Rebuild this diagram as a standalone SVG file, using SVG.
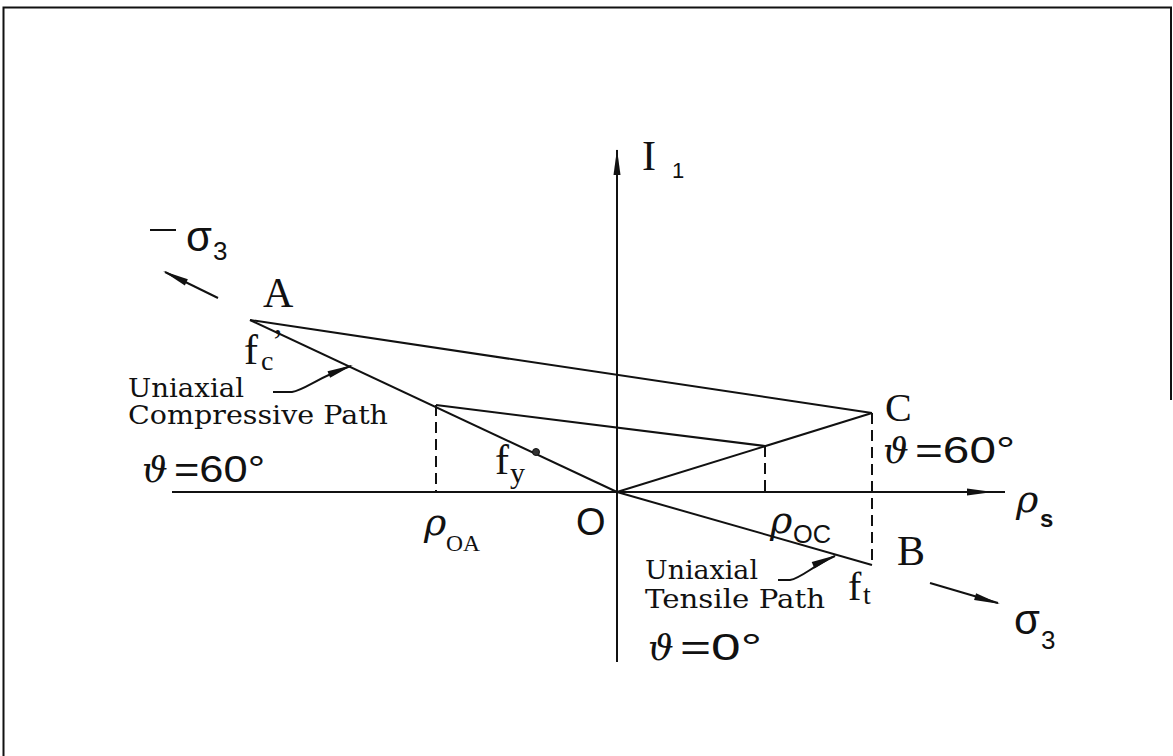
<svg xmlns="http://www.w3.org/2000/svg" width="1173" height="756" viewBox="0 0 1173 756">
<defs>
<style>
.ln{stroke:#111;stroke-width:2;fill:none}
.ds{stroke:#111;stroke-width:2;fill:none;stroke-dasharray:11,6}
.ser{font-family:"Liberation Serif",serif;fill:#111}
.sans{font-family:"Liberation Sans",sans-serif;fill:#111}
.lab{font-family:"DejaVu Serif",serif;fill:#111;font-size:26px}
.th{font-family:"DejaVu Serif",serif;font-style:italic;fill:#111;font-size:36px}
.rho{font-family:"DejaVu Serif",serif;font-style:italic;fill:#111;font-size:38px}
</style>
<path id="ah" d="M0,0 L-26,-3.5 L-26,3.5 Z" fill="#111"/>
</defs>
<rect width="1173" height="756" fill="#fff"/>
<path d="M1171,400 V7.5 H3.5 V756" class="ln" stroke-width="2"/>

<g id="connectors">
<line x1="172" y1="492" x2="1005" y2="492" class="ln"/>
<use href="#ah" transform="translate(993,492)"/>
<line x1="617" y1="150" x2="617" y2="662" class="ln"/>
<use href="#ah" transform="translate(617,149) rotate(-90)"/>
<line x1="250" y1="320" x2="872" y2="413" class="ln"/>
<line x1="250" y1="320" x2="617" y2="492" class="ln"/>
<line x1="617" y1="492" x2="872" y2="565" class="ln"/>
<line x1="617" y1="492" x2="872" y2="413" class="ln"/>
<line x1="436" y1="405" x2="765" y2="446" class="ln"/>
<line x1="436" y1="405" x2="436" y2="492" class="ds"/>
<line x1="765" y1="446" x2="765" y2="492" class="ds"/>
<line x1="872" y1="413" x2="872" y2="565" class="ds"/>
<line x1="218" y1="298" x2="165" y2="272" class="ln"/>
<use href="#ah" transform="translate(163,271) rotate(-153.9)"/>
<line x1="930" y1="583" x2="998" y2="603" class="ln"/>
<use href="#ah" transform="translate(1000,604) rotate(16.7)"/>
<path d="M273,392 L292,392 C305,390 320,376 351,366" class="ln"/>
<use href="#ah" transform="translate(353,365) rotate(-21.5)"/>
<path d="M778,580 L790,580 C802,578 812,566 835,556" class="ln"/>
<use href="#ah" transform="translate(837,555) rotate(-23)"/>
</g>

<g id="point-fy">
<circle cx="536" cy="452" r="3.5" fill="#333" stroke="#111" stroke-width="1"/>
<text x="495" y="474" class="ser" font-size="42">f</text>
<text x="510" y="483" class="ser" font-size="30">y</text>
</g>

<g id="node-A">
<text x="263" y="307" class="ser" font-size="42">A</text>
</g>
<g id="node-fc">
<text x="244" y="364" class="ser" font-size="42">f</text>
<text x="261" y="370" class="ser" font-size="28">c</text>
<text x="272" y="352" class="ser" font-size="34">’</text>
</g>
<g id="node-B">
<text x="897" y="565" class="ser" font-size="42">B</text>
</g>
<g id="node-C">
<text x="885" y="421" class="ser" font-size="40">C</text>
</g>
<g id="node-O">
<text x="576" y="535" class="sans" font-size="38">O</text>
</g>
<g id="node-ft">
<text x="848" y="600" class="ser" font-size="40">f</text>
<text x="863" y="604" class="ser" font-size="28">t</text>
</g>

<g id="label-I1">
<text x="642" y="170" class="ser" font-size="42">I</text>
<text x="672" y="178" class="sans" font-size="22">1</text>
</g>
<g id="label-neg-sigma3">
<line x1="150" y1="230" x2="176" y2="230" class="ln"/>
<text x="186" y="251" class="sans" font-size="42">σ</text>
<text x="213" y="260" class="sans" font-size="26">3</text>
</g>
<g id="label-sigma3">
<text x="1014" y="634" class="sans" font-size="42">σ</text>
<text x="1041" y="649" class="sans" font-size="26">3</text>
</g>
<g id="label-rho-s">
<text x="1016" y="512" class="rho">ρ</text>
<text x="1040" y="527" class="sans" font-size="24" font-weight="bold">s</text>
</g>
<g id="label-rhoOA">
<text x="424" y="535" class="rho">ρ</text>
<text x="446" y="551" class="ser" font-size="24" textLength="34" lengthAdjust="spacingAndGlyphs">OA</text>
</g>
<g id="label-rhoOC">
<text x="770" y="533" class="rho">ρ</text>
<text x="793" y="543" class="sans" font-size="25" textLength="38" lengthAdjust="spacingAndGlyphs">OC</text>
</g>

<g id="label-compressive">
<text x="128" y="397" class="lab" textLength="116" lengthAdjust="spacingAndGlyphs">Uniaxial</text>
<text x="128" y="424" class="lab" textLength="260" lengthAdjust="spacingAndGlyphs">Compressive Path</text>
<text x="142" y="482" class="th">ϑ</text>
<text x="174" y="482" class="sans" font-size="36" textLength="91" lengthAdjust="spacingAndGlyphs">=60°</text>
</g>
<g id="label-tensile">
<text x="645" y="579" class="lab" textLength="113" lengthAdjust="spacingAndGlyphs">Uniaxial</text>
<text x="645" y="608" class="lab" textLength="180" lengthAdjust="spacingAndGlyphs">Tensile Path</text>
<text x="648" y="660" class="th">ϑ</text>
<text x="680" y="660" class="sans" font-size="36" textLength="82" lengthAdjust="spacingAndGlyphs">=0°</text>
</g>
<g id="label-C-theta">
<text x="883" y="463" class="th">ϑ</text>
<text x="915" y="463" class="sans" font-size="36" textLength="100" lengthAdjust="spacingAndGlyphs">=60°</text>
</g>
</svg>
